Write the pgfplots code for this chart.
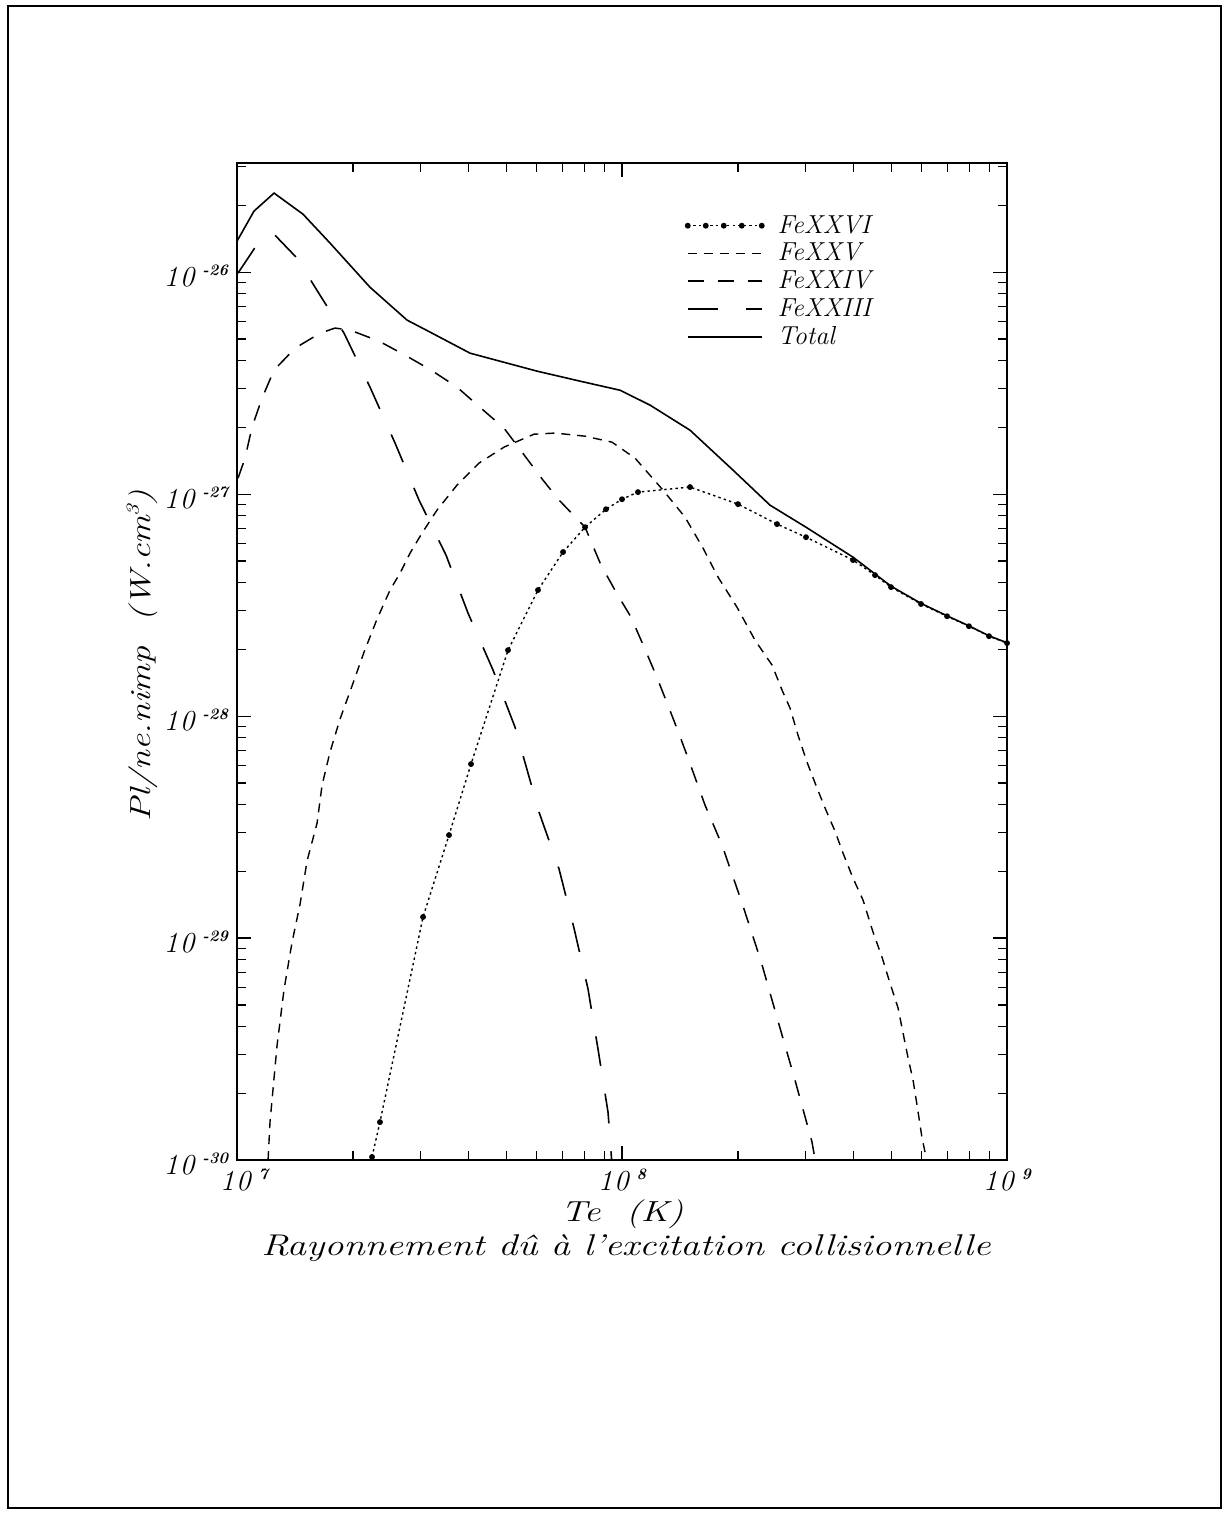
\documentclass[border=0pt]{standalone}
\usepackage{fontspec}
\usepackage{graphicx}
\usepackage{pgfplots}
\pgfplotsset{compat=1.18}
\pgfplotsset{dotlegend/.style={legend image code/.code={\draw[##1] plot coordinates {(0pt,0pt) (9pt,0pt) (18pt,0pt) (27pt,0pt) (37pt,0pt)};\path (43pt,0pt);}},
  linelegend/.style={legend image code/.code={\draw[##1] (0pt,0pt) -- (37pt,0pt);\path (43pt,0pt);}}}
\newcommand{\tl}[1]{\itshape 1\kern0.8pt0\kern4pt\raisebox{5.5pt}{\fontsize{8}{9}\selectfont\bfseries\itshape #1}}
\pgfplotstableread{
T P
1.000e7 1.380e-26
1.107e7 1.884e-26
1.248e7 2.270e-26
1.484e7 1.824e-26
1.744e7 1.352e-26
2.215e7 8.551e-27
2.764e7 6.081e-27
3.172e7 5.370e-27
4.029e7 4.315e-27
6.016e7 3.581e-27
7.780e7 3.228e-27
9.881e7 2.938e-27
1.182e8 2.518e-27
1.502e8 1.941e-27
1.943e8 1.282e-27
2.424e8 8.913e-28
3.005e8 7.096e-28
3.981e8 5.200e-28
4.996e8 3.850e-28
5.979e8 3.220e-28
6.987e8 2.830e-28
7.965e8 2.550e-28
8.979e8 2.300e-28
1.000e9 2.140e-28
}\total
\pgfplotstableread{
T P
2.242e7 1.033e-30
2.351e7 1.483e-30
3.042e7 1.245e-29
3.553e7 2.911e-29
4.053e7 6.081e-29
5.057e7 1.982e-28
6.050e7 3.698e-28
7.028e7 5.483e-28
8.016e7 7.096e-28
9.087e7 8.551e-28
1.000e8 9.484e-28
1.100e8 1.021e-27
1.502e8 1.076e-27
2.001e8 9.016e-28
2.527e8 7.328e-28
3.005e8 6.397e-28
3.981e8 5.047e-28
4.541e8 4.315e-28
4.996e8 3.811e-28
5.979e8 3.199e-28
6.987e8 2.818e-28
7.965e8 2.541e-28
8.979e8 2.291e-28
1.000e9 2.133e-28
}\fexxvi
\pgfplotstableread{
T P
1.204e7 1.000e-30
1.218e7 1.483e-30
1.270e7 3.266e-30
1.325e7 5.888e-30
1.390e7 9.594e-30
1.458e7 1.422e-29
1.520e7 2.223e-29
1.614e7 3.296e-29
1.663e7 4.887e-29
1.744e7 6.887e-29
1.851e7 9.683e-29
1.989e7 1.365e-28
2.137e7 1.941e-28
2.310e7 2.735e-28
2.497e7 3.698e-28
2.651e7 4.406e-28
2.814e7 5.420e-28
3.023e7 6.668e-28
3.307e7 8.472e-28
3.728e7 1.098e-27
4.253e7 1.380e-27
4.938e7 1.629e-27
5.907e7 1.862e-27
6.699e7 1.884e-27
8.016e7 1.824e-27
9.419e7 1.714e-27
1.081e8 1.452e-27
1.278e8 1.042e-27
1.458e8 7.870e-28
1.623e8 5.715e-28
1.776e8 4.227e-28
1.989e8 3.097e-28
2.215e8 2.198e-28
2.453e8 1.698e-28
2.604e8 1.309e-28
2.732e8 1.086e-28
2.865e8 8.204e-29
3.023e8 6.209e-29
3.210e8 4.742e-29
3.368e8 3.855e-29
3.574e8 3.034e-29
3.750e8 2.415e-29
3.981e8 1.862e-29
4.227e8 1.483e-29
4.487e8 1.064e-29
4.734e8 8.213e-30
4.967e8 6.266e-30
5.212e8 4.842e-30
5.370e8 3.733e-30
5.534e8 2.881e-30
5.700e8 2.293e-30
5.838e8 1.769e-30
6.016e8 1.256e-30
6.124e8 1.086e-30
6.190e8 9.500e-31
}\fexxv
\pgfplotstableread{
T P
1.006e7 1.180e-27
1.049e7 1.452e-27
1.094e7 2.004e-27
1.161e7 2.704e-27
1.248e7 3.622e-27
1.415e7 4.545e-27
1.643e7 5.309e-27
1.797e7 5.598e-27
1.966e7 5.483e-27
2.338e7 4.887e-27
2.732e7 4.227e-27
3.191e7 3.622e-27
3.728e7 3.034e-27
4.304e7 2.438e-27
4.938e7 1.982e-27
5.500e7 1.545e-27
6.235e7 1.156e-27
6.862e7 9.397e-28
8.016e7 7.096e-28
8.821e7 4.786e-28
9.647e7 3.622e-28
1.055e8 2.793e-28
1.141e8 2.046e-28
1.225e8 1.531e-28
1.309e8 1.146e-28
1.398e8 8.551e-29
1.484e8 6.471e-29
1.643e8 3.972e-29
1.819e8 2.624e-29
2.050e8 1.438e-29
2.296e8 7.870e-30
2.542e8 4.227e-30
2.814e8 2.291e-30
3.115e8 1.205e-30
3.191e8 9.500e-31
}\fexxiv
\pgfplotstableread{
T P
1.006e7 9.897e-27
1.107e7 1.271e-26
1.233e7 1.514e-26
1.432e7 1.156e-26
1.643e7 7.870e-27
1.897e7 5.309e-27
2.215e7 3.034e-27
2.573e7 1.698e-27
2.970e7 9.397e-28
3.491e7 5.309e-28
3.981e7 2.911e-28
4.624e7 1.611e-28
5.274e7 8.913e-29
6.086e7 3.698e-29
6.862e7 2.046e-29
7.504e7 1.109e-29
8.161e7 5.888e-30
8.662e7 3.162e-30
9.196e7 1.644e-30
9.419e7 9.500e-31
}\fexxiii
\begin{document}
\begin{tikzpicture}
\useasboundingbox (0pt,0pt) rectangle (614pt,758pt);
\draw[line width=0.8pt] (4pt,4pt) rectangle (610.5pt,755pt);
\begin{axis}[
  at={(118.5pt,178pt)}, anchor=south west,
  scale only axis, width=385pt, height=498.5pt,
  xmode=log, ymode=log,
  xmin=1e7, xmax=1e9, ymin=1e-30, ymax=3.1e-26,
  axis line style={line width=0.8pt},
  tick align=inside,
  major tick length=7pt, minor tick length=4.5pt,
  every tick/.style={black, line width=0.6pt},
  xtick={1e7,1e8,1e9},
  xticklabels={\hspace*{7pt}\tl{7},\tl{8},\tl{9}},
  minor xtick={2e7,3e7,4e7,5e7,6e7,7e7,8e7,9e7,2e8,3e8,4e8,5e8,6e8,7e8,8e8,9e8},
  ytick={1e-30,1e-29,1e-28,1e-27,1e-26},
  yticklabels={\tl{-30},\tl{-29},\tl{-28},\tl{-27},\tl{-26}},
  minor ytick={2e-30,3e-30,4e-30,5e-30,6e-30,7e-30,8e-30,9e-30,2e-29,3e-29,4e-29,5e-29,6e-29,7e-29,8e-29,9e-29,2e-28,3e-28,4e-28,5e-28,6e-28,7e-28,8e-28,9e-28,2e-27,3e-27,4e-27,5e-27,6e-27,7e-27,8e-27,9e-27,2e-26,3e-26},
  xticklabel style={font=\fontsize{14.5}{16}\selectfont, yshift=-1pt},
  yticklabel style={font=\fontsize{14.5}{16}\selectfont, yshift=-2pt, xshift=-1pt},
  xlabel={\scalebox{1.27}[1]{\itshape Te\ \ (K)}},
  xlabel style={font=\fontsize{14.5}{16}\selectfont, at={(axis description cs:0.5,-0.033)}, anchor=north},
  ylabel={\scalebox{1.24}[1]{\itshape Pl/ne.nimp\ \ (W.cm\raisebox{6pt}{\fontsize{9}{10}\selectfont 3})}},
  ylabel style={font=\fontsize{14.5}{16}\selectfont, at={(axis description cs:-0.123,0.506)}, anchor=center},
  legend style={draw=none, fill=none, at={(0.582,0.951)}, anchor=north west,
    font=\fontsize{13}{15}\selectfont\itshape, row sep=0.5pt, inner sep=0pt,
    nodes={inner sep=1.5pt}},
  legend cell align=left,
  linelegend,
]
\addplot[black, line width=0.7pt, dash pattern=on 1.2pt off 1.6pt, mark=*, mark size=1.1pt, mark options={solid}, dotlegend] table[x=T,y=P] {\fexxvi};
\addlegendentry{FeXXVI}
\addplot[black, line width=0.7pt, dash pattern=on 4.5pt off 3.5pt] table[x=T,y=P] {\fexxv};
\addlegendentry{FeXXV}
\addplot[black, line width=0.75pt, dash pattern=on 8pt off 7pt] table[x=T,y=P] {\fexxiv};
\addlegendentry{FeXXIV}
\addplot[black, line width=0.8pt, dash pattern=on 15pt off 14pt] table[x=T,y=P] {\fexxiii};
\addlegendentry{FeXXIII}
\addplot[black, line width=0.8pt] table[x=T,y=P] {\total};
\addlegendentry{Total}
\end{axis}
\node[font=\fontsize{15}{17}\selectfont, anchor=center] at (313pt,134pt)
  {\scalebox{1.28}[1]{\itshape Rayonnement dû à l'excitation collisionnelle}};
\end{tikzpicture}
\end{document}
